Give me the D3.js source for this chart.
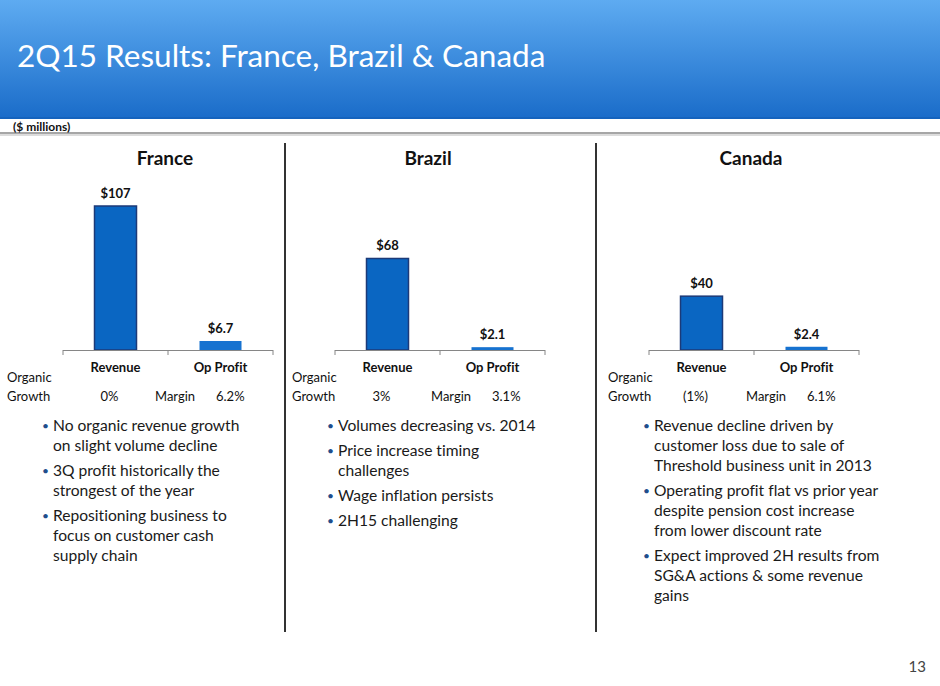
<!DOCTYPE html>
<html>
<head>
<meta charset="utf-8">
<script src="https://cdn.jsdelivr.net/npm/d3@7"></script>
<style>
  body { margin: 0; background: #fff; }
  svg { display: block; font-family: Lato, "Open Sans", sans-serif; font-variant-ligatures: none; }
</style>
</head>
<body>
<svg width="940" height="686"></svg>
<script>
// chart values
var countries = ['France', 'Brazil', 'Canada'];
var categories = ['Revenue', 'Op Profit'];
var revenue = [107, 68, 40];
var opProfit = [6.7, 2.1, 2.4];
var organicGrowth = ['0%', '3%', '(1%)'];
var margins = ['6.2%', '3.1%', '6.1%'];

// bullet text, one array of wrapped lines per bullet
var bullets = [
    [['No organic revenue growth', 'on slight volume decline'],
     ['3Q profit historically the', 'strongest of the year'],
     ['Repositioning business to', 'focus on customer cash', 'supply chain']],
    [['Volumes decreasing vs. 2014'],
     ['Price increase timing', 'challenges'],
     ['Wage inflation persists'],
     ['2H15 challenging']],
    [['Revenue decline driven by', 'customer loss due to sale of', 'Threshold business unit in 2013'],
     ['Operating profit flat vs prior year', 'despite pension cost increase', 'from lower discount rate'],
     ['Expect improved 2H results from', 'SG&A actions & some revenue', 'gains']]
];

// layout of each panel
var axisLeft = [63, 335, 649];
var axisWidth = 210;
var titleX = [165, 428, 751];
var organicX = [7, 292, 608];
var marginX = [155, 431, 746];
var bulletX = [42, 327, 643];

var svg = d3.select('svg');

// header band
var defs = svg.append('defs');
var grad = defs.append('linearGradient').attr('id', 'hdr').attr('x1', 0).attr('y1', 0).attr('x2', 0).attr('y2', 1);
grad.append('stop').attr('offset', '0%').attr('stop-color', '#5eabf1');
grad.append('stop').attr('offset', '100%').attr('stop-color', '#1a6cc9');

svg.append('rect').attr('x', 0).attr('y', 0).attr('width', 940).attr('height', 118).attr('fill', 'url(#hdr)');
svg.append('rect').attr('x', 0).attr('y', 117).attr('width', 940).attr('height', 2).attr('fill', '#1563bd');
svg.append('rect').attr('x', 0).attr('y', 132).attr('width', 940).attr('height', 2).attr('fill', '#a6a6a6');
svg.append('rect').attr('x', 0).attr('y', 134).attr('width', 940).attr('height', 2).attr('fill', '#dcdcdc');

svg.append('text')
    .text('2Q15 Results: France, Brazil & Canada')
    .attr('x', 17).attr('y', 67)
    .attr('fill', '#fff')
    .style('font-size', '31.5px');

svg.append('text')
    .text('($ millions)')
    .attr('x', 13).attr('y', 131)
    .attr('fill', '#111')
    .style('font-size', '12px')
    .style('font-weight', 'bold');

// divider lines
svg.selectAll('.divider')
    .data([285, 596])
    .enter()
    .append('line')
    .attr('class', 'divider')
    .attr('x1', function(d){ return d; })
    .attr('x2', function(d){ return d; })
    .attr('y1', 143).attr('y2', 632)
    .attr('stroke', '#333').attr('stroke-width', 2);

// shared value scale for all three panels
var scaleY = d3.scaleLinear().domain([0, 107]).range([350, 206]);

countries.forEach(function(country, i){
    var g = svg.append('g');
    var x0 = axisLeft[i];
    var scaleX = d3.scaleBand().domain(categories).range([x0, x0 + axisWidth]).paddingInner(0.6).paddingOuter(0.3);
    var vals = [revenue[i], opProfit[i]];

    g.append('text')
        .text(country)
        .attr('x', titleX[i])
        .attr('y', 165)
        .attr('text-anchor', 'middle')
        .style('font-size', '19px').style('font-weight', 'bold')
        .attr('fill', '#111');

    g.selectAll('.bar')
        .data(vals)
        .enter()
        .append('rect')
        .attr('class', 'bar')
        .attr('x', function(d, j){ return scaleX(categories[j]); })
        .attr('width', scaleX.bandwidth())
        .attr('y', function(d){ return scaleY(d); })
        .attr('height', function(d){ return scaleY(0) - scaleY(d); })
        .attr('fill', function(d, j){ return j == 0 ? '#0a66c2' : '#1672d0'; })
        .attr('stroke', function(d, j){ return j == 0 ? '#1c3a78' : 'none'; })
        .attr('stroke-width', 1.5);

    g.selectAll('.val')
        .data(vals)
        .enter()
        .append('text')
        .attr('class', 'val')
        .text(function(d){ return '$' + d; })
        .attr('x', function(d, j){ return scaleX(categories[j]) + scaleX.bandwidth() / 2; })
        .attr('y', function(d){ return scaleY(d) - 8; })
        .attr('text-anchor', 'middle')
        .style('font-size', '13px').style('font-weight', 'bold')
        .attr('fill', '#111');

    // category axis with ticks at the band edges
    var r = scaleX.range();
    g.append('line')
        .attr('x1', r[0]).attr('x2', r[1])
        .attr('y1', scaleY(0) + 0.5).attr('y2', scaleY(0) + 0.5)
        .attr('stroke', '#868686');
    g.selectAll('.tick')
        .data([r[0], (r[0] + r[1]) / 2, r[1]])
        .enter()
        .append('line')
        .attr('x1', function(d){ return d; })
        .attr('x2', function(d){ return d; })
        .attr('y1', scaleY(0)).attr('y2', scaleY(0) + 5)
        .attr('stroke', '#868686');

    g.selectAll('.cat')
        .data(categories)
        .enter()
        .append('text')
        .text(function(d){ return d; })
        .attr('x', function(d){ return scaleX(d) + scaleX.bandwidth() / 2; })
        .attr('y', 372)
        .attr('text-anchor', 'middle')
        .style('font-size', '13px').style('font-weight', 'bold')
        .attr('fill', '#111');

    // growth and margin line
    g.append('text').text('Organic').attr('x', organicX[i]).attr('y', 382).style('font-size', '13px').attr('fill', '#111');
    g.append('text').text('Growth').attr('x', organicX[i]).attr('y', 401).style('font-size', '13px').attr('fill', '#111');
    g.append('text').text(organicGrowth[i])
        .attr('x', scaleX('Revenue') + scaleX.bandwidth() / 2 - 6).attr('y', 401)
        .attr('text-anchor', 'middle').style('font-size', '13px').attr('fill', '#111');
    g.append('text').text('Margin').attr('x', marginX[i]).attr('y', 401).style('font-size', '13px').attr('fill', '#111');
    g.append('text').text(margins[i]).attr('x', marginX[i] + 61).attr('y', 401).style('font-size', '13px').attr('fill', '#111');

    // bullets
    var y = 431;
    bullets[i].forEach(function(lines){
        g.append('text').text('\u2022')
            .attr('x', bulletX[i]).attr('y', y - 1)
            .style('font-size', '12px').attr('fill', '#1f4e8c');
        lines.forEach(function(line){
            g.append('text').text(line)
                .attr('x', bulletX[i] + 11).attr('y', y)
                .style('font-size', '15.6px').attr('fill', '#1a1a1a');
            y += 20;
        });
        y += 5;
    });
});

svg.append('text')
    .text('13')
    .attr('x', 926).attr('y', 672)
    .attr('text-anchor', 'end')
    .style('font-size', '15px')
    .attr('fill', '#444');
</script>
</body>
</html>
